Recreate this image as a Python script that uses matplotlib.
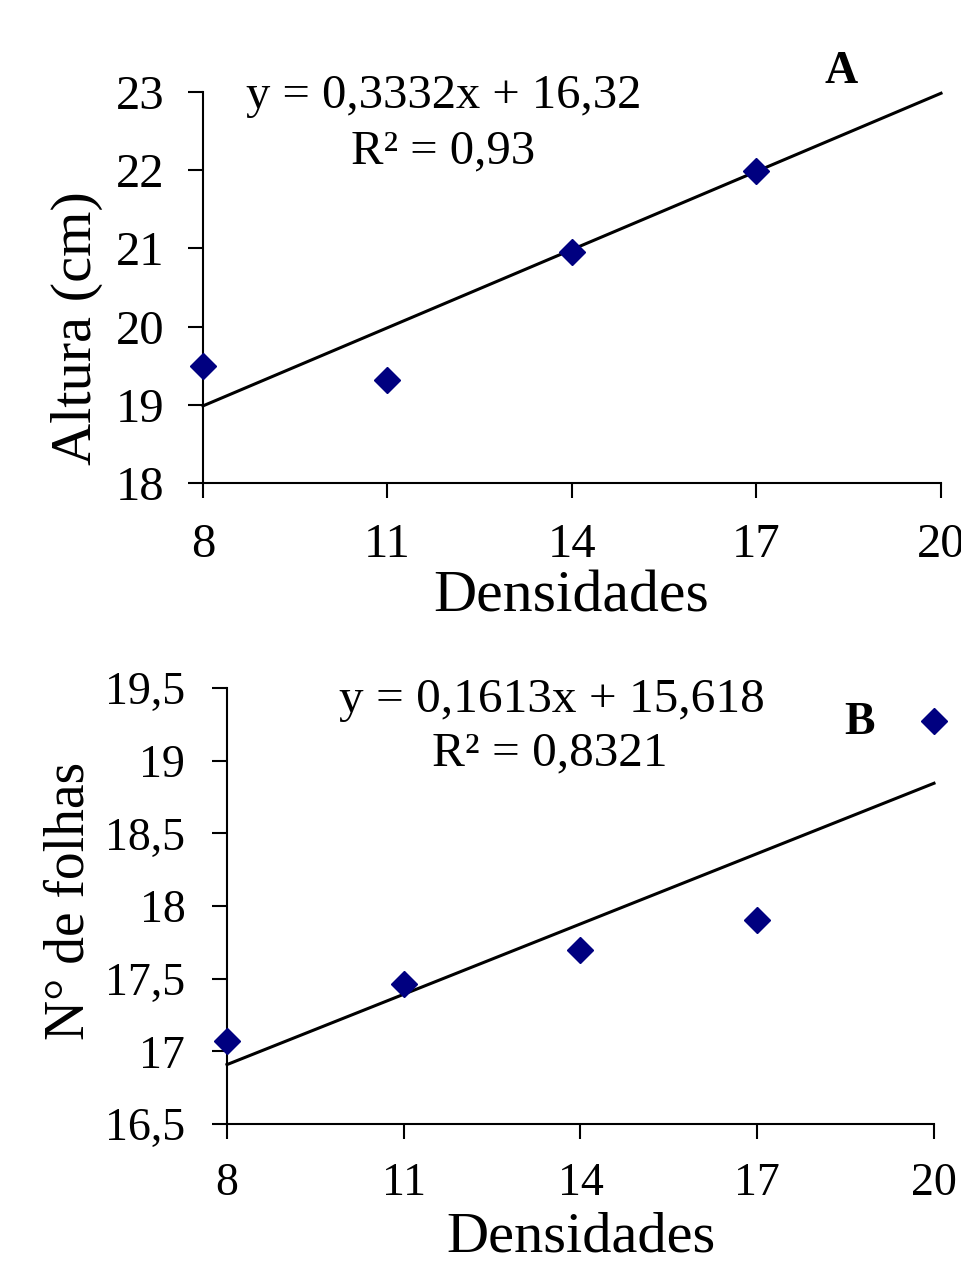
import matplotlib
matplotlib.use("Agg")
import matplotlib.pyplot as plt
import numpy as np

plt.rcParams['font.family'] = ['Liberation Serif', 'DejaVu Serif']

# Panel A data
xa = [8, 11, 14, 17]
ya = [19.5, 19.32, 20.95, 21.99]
slope_a, icpt_a = 0.3332, 16.32
eq_a = ["y = 0,3332x + 16,32", "R² = 0,93"]

# Panel B data
xb = [8, 11, 14, 17, 20]
yb = [17.07, 17.46, 17.70, 17.90, 19.27]
slope_b, icpt_b = 0.1613, 15.618
eq_b = ["y = 0,1613x + 15,618", "R² = 0,8321"]

xticks = [8, 11, 14, 17, 20]
yticks_a = [18, 19, 20, 21, 22, 23]
yticks_b = [16.5, 17, 17.5, 18, 18.5, 19, 19.5]

fig = plt.figure(figsize=(9.61, 12.62), dpi=100)
ax1 = fig.add_axes([0.2112, 0.6173, 0.768, 0.3098])
ax2 = fig.add_axes([0.2362, 0.1094, 0.7357, 0.3455])

navy = '#000080'

def style(ax, size, xpad, ypad):
    for s in ['top', 'right']:
        ax.spines[s].set_visible(False)
    for s in ['left', 'bottom']:
        ax.spines[s].set_linewidth(1.5)
    ax.tick_params(direction='out', length=10.5, width=1.5, labelsize=size)
    ax.tick_params(axis='x', pad=xpad)
    ax.tick_params(axis='y', pad=ypad)
    ax.set_xlim(8, 20)
    ax.set_xticks(xticks)

xl = np.array([8, 20])

# Panel A
ax1.plot(xl, slope_a * xl + icpt_a, color='black', lw=2.2, clip_on=False, zorder=2)
ax1.plot(xa, ya, 'D', color=navy, ms=13, clip_on=False, zorder=3)
style(ax1, 35, 18.5, 17)
ax1.set_ylim(18, 23)
ax1.set_yticks(yticks_a)
ax1.set_yticklabels([str(v) for v in yticks_a])
ax1.set_xticklabels([str(v) for v in xticks])
ax1.text(0.4986, -0.330, 'Densidades', transform=ax1.transAxes, fontsize=43,
         ha='center', va='baseline')
ax1.text(-0.1518, 0.395, 'Altura (cm)', transform=ax1.transAxes, fontsize=42,
         rotation=90, rotation_mode='anchor', ha='center', va='baseline')
ax1.text(0.326, 0.959, eq_a[0], transform=ax1.transAxes, fontsize=35,
         ha='center', va='baseline')
ax1.text(0.325, 0.818, eq_a[1], transform=ax1.transAxes, fontsize=35,
         ha='center', va='baseline')
ax1.text(0.8645, 1.023, 'A', transform=ax1.transAxes, fontsize=33,
         fontweight='bold', ha='center', va='baseline')

# Panel B
ax2.plot(xl, slope_b * xl + icpt_b, color='black', lw=2.2, clip_on=False, zorder=2)
ax2.plot(xb, yb, 'D', color=navy, ms=13, clip_on=False, zorder=3)
style(ax2, 33, 17, 19.5)
ax2.set_ylim(16.5, 19.5)
ax2.set_yticks(yticks_b)
ax2.set_yticklabels([f"{v:g}".replace('.', ',') for v in yticks_b])
ax2.set_xticklabels([str(v) for v in xticks])
ax2.text(0.5007, -0.2936, 'Densidades', transform=ax2.transAxes, fontsize=42,
         ha='center', va='baseline')
ax2.text(-0.2023, 0.512, 'N° de folhas', transform=ax2.transAxes, fontsize=40,
         rotation=90, rotation_mode='anchor', ha='center', va='baseline')
ax2.text(0.459, 0.945, eq_b[0], transform=ax2.transAxes, fontsize=35.5,
         ha='center', va='baseline')
ax2.text(0.457, 0.823, eq_b[1], transform=ax2.transAxes, fontsize=35.5,
         ha='center', va='baseline')
ax2.text(0.895, 0.894, 'B', transform=ax2.transAxes, fontsize=33,
         fontweight='bold', ha='center', va='baseline')

fig.savefig('out.png', dpi=100)
